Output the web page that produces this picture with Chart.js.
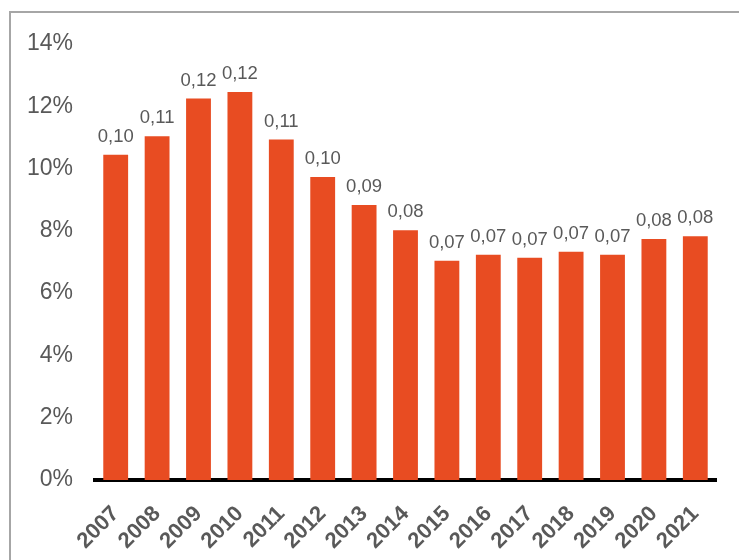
<!DOCTYPE html>
<html>
<head>
<meta charset="utf-8">
<script src="https://cdn.jsdelivr.net/npm/chart.js@4/dist/chart.umd.min.js"></script>
<style>
  html, body { margin: 0; padding: 0; background: #fff; }
  #frame {
    position: absolute; left: 9px; top: 11px; width: 760px; height: 600px;
    border-top: 2px solid #a6a6a6; border-left: 2px solid #a6a6a6;
  }
  #wrap { position: absolute; left: 0; top: 0; width: 739px; height: 560px; }
</style>
</head>
<body>
<div id="frame"></div>
<div id="wrap"><canvas id="chart" width="739" height="560"></canvas></div>
<script>
// annees et taux (fractions)
const years = ["2007", "2008", "2009", "2010", "2011", "2012", "2013", "2014",
               "2015", "2016", "2017", "2018", "2019", "2020", "2021"];
const rates = [0.1044, 0.1104, 0.1225, 0.1246, 0.1093, 0.0973, 0.0883, 0.0802,
               0.0704, 0.0723, 0.0714, 0.0733, 0.0723, 0.0774, 0.0783];
const yTicks = [0, 0.02, 0.04, 0.06, 0.08, 0.10, 0.12, 0.14];

const GREY = "#595959";
const FONT = "'Liberation Sans', Arial, sans-serif";

// etiquettes au-dessus des barres
const valueLabels = {
  id: "valueLabels",
  afterDatasetsDraw(chart) {
    const ctx = chart.ctx;
    const meta = chart.getDatasetMeta(0);
    ctx.save();
    ctx.font = "18.5px " + FONT;
    ctx.fillStyle = GREY;
    ctx.textAlign = "center";
    ctx.textBaseline = "alphabetic";
    meta.data.forEach((bar, i) => {
      const txt = rates[i].toFixed(2).replace(".", ",");
      ctx.fillText(txt, bar.x, bar.y - 13);
    });
    ctx.restore();
  }
};

new Chart(document.getElementById("chart"), {
  type: "bar",
  data: {
    labels: years,
    datasets: [{
      data: rates,
      backgroundColor: "#E84C22",
      barPercentage: 0.6,
      categoryPercentage: 1.0
    }]
  },
  options: {
    responsive: false,
    animation: false,
    layout: { padding: { top: 44, right: 23, left: 0, bottom: 0 } },
    plugins: { legend: { display: false }, tooltip: { enabled: false } },
    scales: {
      x: {
        grid: { display: false },
        border: { display: true, color: "#000", width: 4 },
        ticks: {
          color: GREY,
          font: { family: FONT, size: 22, weight: "bold" },
          autoSkip: false,
          minRotation: 45,
          maxRotation: 45,
          padding: 13
        },
        afterFit(axis) { axis.height = 80; }
      },
      y: {
        min: 0,
        max: 0.14,
        grid: { display: false },
        border: { display: false },
        afterBuildTicks(axis) { axis.ticks = yTicks.map(v => ({ value: v })); },
        ticks: {
          color: GREY,
          padding: 14,
          font: { family: FONT, size: 23 },
          callback: v => Math.round(v * 100) + "%"
        },
        afterFit(axis) { axis.width = 95; }
      }
    }
  },
  plugins: [valueLabels]
});
</script>
</body>
</html>
